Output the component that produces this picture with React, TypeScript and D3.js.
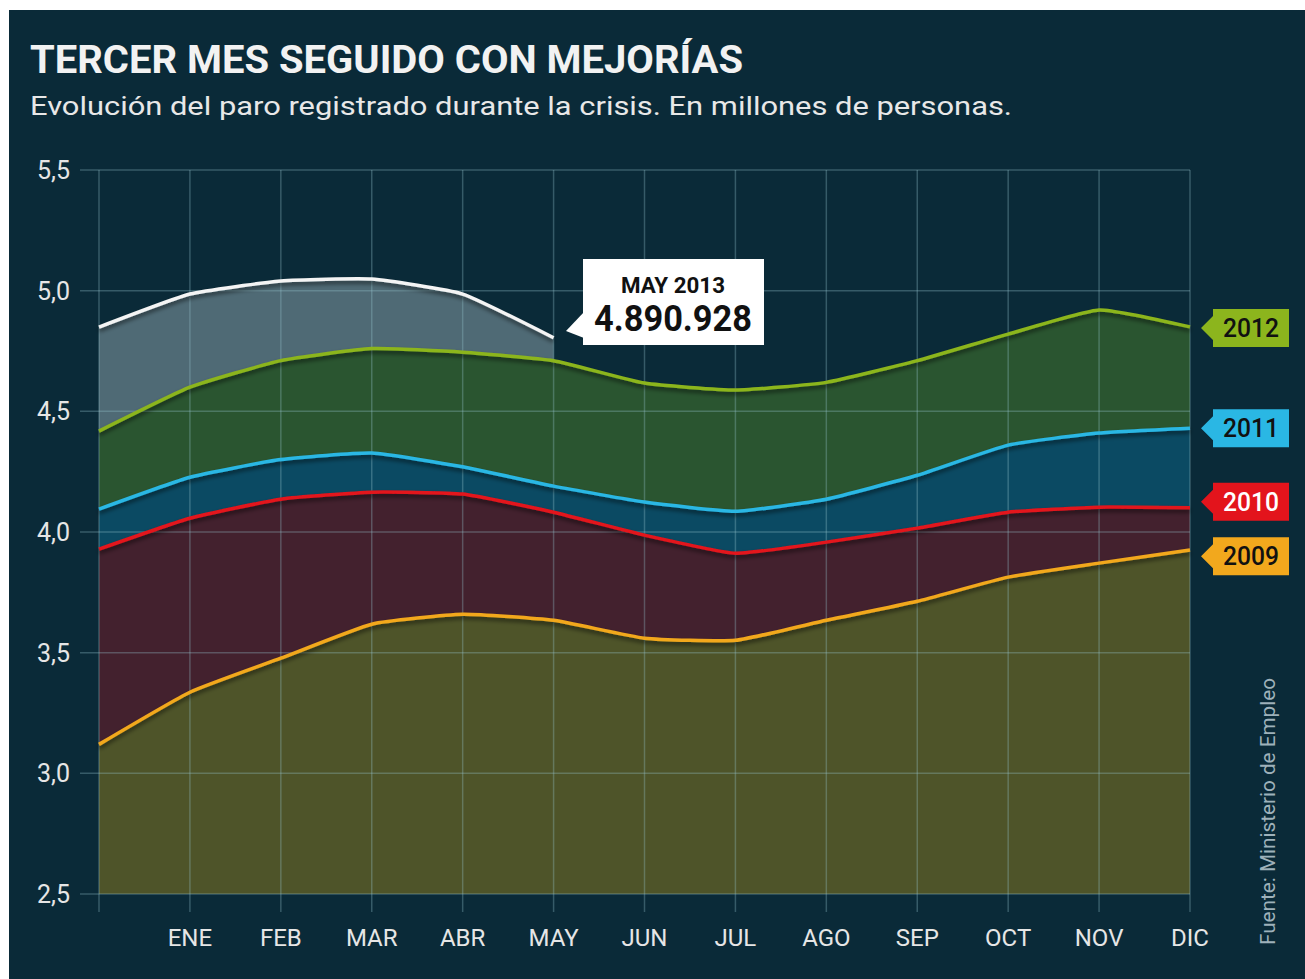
import React from "react";
import * as d3 from "d3";

const months = ["", "ENE", "FEB", "MAR", "ABR", "MAY", "JUN", "JUL", "AGO", "SEP", "OCT", "NOV", "DIC"];
const yTicks = [2.5, 3.0, 3.5, 4.0, 4.5, 5.0, 5.5];

const s2009 = [3.12, 3.336, 3.477, 3.618, 3.659, 3.634, 3.56, 3.551, 3.634, 3.713, 3.813, 3.871, 3.925];
const s2010 = [3.929, 4.057, 4.136, 4.165, 4.157, 4.082, 3.987, 3.912, 3.958, 4.016, 4.082, 4.103, 4.10];
const s2011 = [4.095, 4.227, 4.30, 4.327, 4.27, 4.19, 4.124, 4.086, 4.136, 4.235, 4.36, 4.41, 4.43];
const s2012 = [4.418, 4.60, 4.71, 4.76, 4.745, 4.71, 4.617, 4.588, 4.62, 4.71, 4.82, 4.92, 4.85];
const s2013 = [4.849, 4.986, 5.04, 5.048, 4.986, 4.805];

const seriesNames = ["2013", "2012", "2011", "2010", "2009"];
const seriesData = [s2013, s2012, s2011, s2010, s2009];
// vertical anchor of each year tag (in chart units), shifted to avoid overlap
const tagValues = [0, 4.845, 4.43, 4.125, 3.9];
const lineColors = ["#f4f4f4", "#8cb51d", "#2ab7e4", "#e3141c", "#f2a81d"];
const fillColors = ["#4f6a75", "#2a5530", "#0b4a63", "#43212e", "#4e5429"];
const tagText = ["", "#111", "#111", "#fff", "#111"];

const W = 1305;
const H = 979;

export default function App() {
  const x = d3.scaleLinear().domain([0, 12]).range([99, 1190]);
  const y = d3.scaleLinear().domain([2.5, 5.5]).range([894, 170]);
  const curve = d3.curveCardinal.tension(0.55);
  const area = d3
    .area<number>()
    .x((_, i) => x(i))
    .y0(y(2.5))
    .y1((d) => y(d))
    .curve(curve);
  const line = d3
    .line<number>()
    .x((_, i) => x(i))
    .y((d) => y(d))
    .curve(curve);

  const font = "Roboto, 'Open Sans', sans-serif";

  return (
    <svg
      width={W}
      height={H}
      style={{ position: "absolute", left: 0, top: 0, background: "#fff" }}
    >
      <defs>
        <filter id="sh" x="-5%" y="-20%" width="110%" height="140%">
          <feDropShadow dx="0" dy="3" stdDeviation="2" floodColor="#000" floodOpacity="0.55" />
        </filter>
      </defs>
      <rect x={9} y={10} width={W - 9} height={H - 10} fill="#0a2a38" />

      <text
        x={30}
        y={73}
        fill="#f2f2f2"
        fontFamily={font}
        fontWeight="bold"
        fontSize={38}
        textLength={713}
        lengthAdjust="spacingAndGlyphs"
      >
        TERCER MES SEGUIDO CON MEJORÍAS
      </text>
      <text
        x={30}
        y={115}
        fill="#e8e8e8"
        fontFamily={font}
        fontSize={26}
        textLength={982}
        lengthAdjust="spacingAndGlyphs"
      >
        Evolución del paro registrado durante la crisis. En millones de personas.
      </text>

      {/* areas */}
      {seriesData.map((d, k) => (
        <path key={"a" + k} d={area(d) || ""} fill={fillColors[k]} />
      ))}

      {/* grid */}
      {yTicks.map((t) => (
        <line
          key={"h" + t}
          x1={80}
          x2={1190}
          y1={y(t)}
          y2={y(t)}
          stroke="rgba(150,195,205,0.32)"
          strokeWidth={1.5}
        />
      ))}
      {months.map((m, i) => (
        <line
          key={"v" + i}
          x1={x(i)}
          x2={x(i)}
          y1={y(5.5)}
          y2={912}
          stroke="rgba(150,195,205,0.32)"
          strokeWidth={1.5}
        />
      ))}

      {/* lines */}
      {seriesData
        .map((d, k) => ({ d, k }))
        .reverse()
        .map(({ d, k }) => (
          <path
            key={"l" + k}
            d={line(d) || ""}
            fill="none"
            stroke={lineColors[k]}
            strokeWidth={3.5}
            filter="url(#sh)"
          />
        ))}

      {/* y labels */}
      {yTicks.map((t) => (
        <text
          key={"yl" + t}
          x={70}
          y={y(t) + 9}
          textAnchor="end"
          fill="#e6e6e6"
          fontFamily={font}
          fontSize={25}
        >
          {t.toFixed(1).replace(".", ",")}
        </text>
      ))}

      {/* x labels */}
      {months.map((m, i) =>
        m ? (
          <text
            key={"xl" + i}
            x={x(i)}
            y={946}
            textAnchor="middle"
            fill="#e6e6e6"
            fontFamily={font}
            fontSize={24}
          >
            {m}
          </text>
        ) : null
      )}

      {/* callout */}
      <g>
        <rect x={583} y={259} width={181} height={86} fill="#fff" />
        <path d={`M584,312 L566,331 L584,338 Z`} fill="#fff" />
        <text
          x={673}
          y={293}
          textAnchor="middle"
          fill="#111"
          fontFamily={font}
          fontWeight="bold"
          fontSize={22}
          textLength={104}
          lengthAdjust="spacingAndGlyphs"
        >
          MAY 2013
        </text>
        <text
          x={673}
          y={331}
          textAnchor="middle"
          fill="#111"
          fontFamily={font}
          fontWeight="bold"
          fontSize={36}
          textLength={158}
          lengthAdjust="spacingAndGlyphs"
        >
          4.890.928
        </text>
      </g>

      {/* legend tags */}
      {seriesData.map((d, k) => {
        if (k === 0) return null;
        const cy = y(tagValues[k]);
        const bx = 1213;
        const bw = 76;
        const bh = 38;
        const top = cy - bh / 2;
        return (
          <g key={"t" + k}>
            <path
              d={`M${bx},${top} L${bx + bw},${top} L${bx + bw},${top + bh} L${bx},${top + bh} L${bx},${cy + 12} L${bx - 12},${cy} L${bx},${cy - 12} Z`}
              fill={lineColors[k]}
            />
            <text
              x={bx + bw / 2}
              y={cy + 9}
              textAnchor="middle"
              fill={tagText[k]}
              fontFamily={font}
              fontWeight={500}
              fontSize={25}
              textLength={56}
              lengthAdjust="spacingAndGlyphs"
            >
              {seriesNames[k]}
            </text>
          </g>
        );
      })}

      <text
        transform="translate(1275,945) rotate(-90)"
        fill="#9eb1ba"
        fontFamily={font}
        fontSize={20}
        textLength={267}
        lengthAdjust="spacingAndGlyphs"
      >
        Fuente: Ministerio de Empleo
      </text>
    </svg>
  );
}
